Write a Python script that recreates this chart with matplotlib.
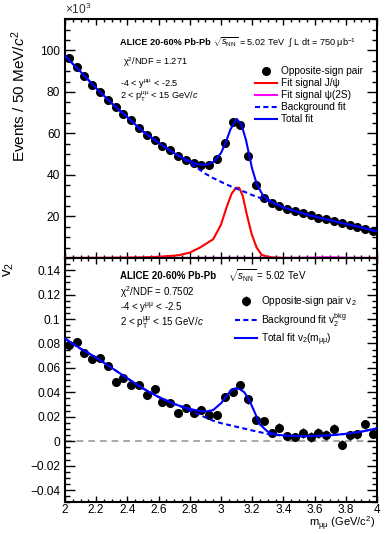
import numpy as np
import matplotlib
matplotlib.use("Agg")
import matplotlib.pyplot as plt
from matplotlib.ticker import MultipleLocator, FixedLocator, FuncFormatter

plt.rcParams['font.family'] = ['Liberation Sans', 'DejaVu Sans']
plt.rcParams['mathtext.fontset'] = 'custom'
plt.rcParams['mathtext.rm'] = 'Liberation Sans'
plt.rcParams['mathtext.it'] = 'Liberation Sans:italic'
plt.rcParams['mathtext.bf'] = 'Liberation Sans:bold'

# dimuon invariant mass bin centres (GeV/c^2)
mass = np.arange(40) * 0.05 + 2.025

# opposite-sign pair yield (x10^3 per 50 MeV/c^2)
counts = [96.3, 91.8, 87.6, 83.4, 80.1, 76.3, 72.7, 69.3, 66.3, 62.7,
          59.3, 57.0, 54.0, 51.9, 49.1, 47.4, 45.9, 44.6, 44.7, 47.6,
          55.6, 65.6, 64.3, 49.1, 35.2, 28.7, 26.5, 25.2, 23.6, 22.4,
          21.5, 20.5, 19.5, 18.6, 17.8, 16.8, 15.9, 15.0, 14.2, 13.1]

# fit curves
fit_m = [2.0, 2.1, 2.2, 2.3, 2.4, 2.5, 2.6, 2.7, 2.75, 2.8, 2.85, 2.9, 2.95,
         3.0, 3.03, 3.06, 3.1, 3.13, 3.16, 3.2, 3.23, 3.27, 3.33, 3.4, 3.5,
         3.6, 3.7, 3.8, 3.9, 4.0]
total_fit = [97.4, 89.7, 81.8, 74.5, 67.8, 61.0, 55.5, 50.5, 48.4, 46.6, 45.2, 44.8, 46.2,
             50.5, 55.5, 61.8, 67.0, 64.5, 57.0, 43.0, 35.5, 30.0, 26.8, 24.4, 22.0,
             20.0, 18.2, 16.4, 14.7, 12.8]
bkg_fit = [97.4, 89.7, 81.8, 74.5, 67.8, 61.0, 55.5, 50.5, 48.2, 45.8, 43.3, 40.6, 38.5,
           36.7, 35.6, 34.6, 33.4, 32.5, 31.6, 30.3, 29.5, 28.4, 26.6, 24.4, 22.0,
           20.0, 18.2, 16.4, 14.7, 12.8]

jpsi_m = [2.0, 2.3, 2.5, 2.6, 2.7, 2.74, 2.8, 2.865, 2.95, 3.0, 3.036, 3.068, 3.096,
          3.117, 3.139, 3.165, 3.197, 3.229, 3.261, 3.31, 3.4, 4.0]
jpsi_fit = [0.0, 0.1, 0.3, 0.6, 1.1, 1.5, 2.6, 5.0, 9.0, 16.0, 24.4, 30.9, 33.8,
            33.8, 30.1, 21.2, 11.5, 5.0, 1.5, 0.4, 0.0, 0.0]

psi2s_m = [2.0, 3.5, 3.6, 3.68, 3.76, 3.85, 4.0]
psi2s_fit = [0.0, 0.05, 0.2, 0.35, 0.2, 0.05, 0.0]

# v2 of opposite-sign pairs
v2 = [0.0784, 0.0815, 0.0724, 0.0670, 0.0683, 0.0612, 0.0484, 0.0520, 0.0462, 0.0462,
      0.0375, 0.0424, 0.0320, 0.0309, 0.0227, 0.0274, 0.0227, 0.0254, 0.0213, 0.0213,
      0.0361, 0.0402, 0.0457, 0.0342, 0.0172, 0.0164, 0.0069, 0.0110, 0.0041, 0.0033,
      0.0069, 0.0036, 0.0069, 0.0049, 0.0102, -0.0027, 0.0047, 0.0055, 0.0137, 0.0063]
v2_err = [0.003] * 20 + [0.0035] * 10 + [0.004] * 10

v2_m = [2.0, 2.1, 2.2, 2.3, 2.4, 2.5, 2.6, 2.7, 2.75, 2.8, 2.85, 2.9, 2.95, 3.0,
        3.03, 3.06, 3.09, 3.12, 3.15, 3.18, 3.21, 3.25, 3.3, 3.35, 3.4, 3.5,
        3.6, 3.7, 3.8, 3.9, 4.0]
v2_total = [0.0840, 0.0757, 0.0685, 0.0600, 0.0515, 0.0432, 0.0362, 0.0305, 0.0284, 0.0265,
            0.0250, 0.0242, 0.0255, 0.0310, 0.0360, 0.0410, 0.0432, 0.0428, 0.0400, 0.0340,
            0.0255, 0.0137, 0.0078, 0.0055, 0.0047, 0.0041, 0.0043, 0.0048, 0.0060, 0.0078,
            0.0105]
v2_bkg = [0.0840, 0.0757, 0.0685, 0.0600, 0.0515, 0.0432, 0.0362, 0.0305, 0.0280, 0.0252,
          0.0224, 0.0195, 0.0168, 0.0148, 0.0139, 0.0130, 0.0121, 0.0112, 0.0103, 0.0094,
          0.0085, 0.0074, 0.0060, 0.0052, 0.0046, 0.0041, 0.0043, 0.0048, 0.0060, 0.0078,
          0.0105]

fig = plt.figure(figsize=(3.85, 5.34), dpi=100)
ax1 = fig.add_axes([0.1688, 0.5169, 0.8102, 0.4470])
ax2 = fig.add_axes([0.1688, 0.0594, 0.8102, 0.4575])

dash = (0, (2.4, 1.6))
for ax in (ax1, ax2):
    ax.tick_params(which='both', direction='in', top=True, right=True, labelsize=8.6)
    ax.tick_params(which='major', length=7, width=1.0)
    ax.tick_params(which='minor', length=3.5, width=1.0)
    ax.tick_params(axis='x', which='major', length=4.5, pad=1.5)
    ax.tick_params(axis='x', which='minor', length=2.5)
    for s in ax.spines.values():
        s.set_linewidth(1.5)
    ax.set_xlim(2, 4)
    ax.xaxis.set_major_locator(MultipleLocator(0.2))
    ax.xaxis.set_minor_locator(MultipleLocator(0.05))

mumu = r'\mathrm{\u03bc\u03bc}'.encode().decode('unicode_escape')

# ---- top panel: invariant mass fit
ax1.plot(jpsi_m, jpsi_fit, color='red', lw=1.5, label='Fit signal J/\u03c8', zorder=3)
ax1.plot(psi2s_m, psi2s_fit, color='#ff00ff', lw=1.5, label='Fit signal \u03c8(2S)', zorder=3)
ax1.plot(fit_m, bkg_fit, color='blue', lw=1.5, ls=dash, label='Background fit', zorder=4)
ax1.plot(fit_m, total_fit, color='blue', lw=1.5, label='Total fit', zorder=5)
ax1.plot(mass, counts, 'o', color='black', ms=5.5, label='Opposite-sign pair', zorder=3)
ax1.set_ylim(0, 115)
ax1.yaxis.set_major_locator(FixedLocator([20, 40, 60, 80, 100]))
ax1.yaxis.set_minor_locator(MultipleLocator(5))
ax1.tick_params(axis='x', labelbottom=False)
ax1.set_ylabel('Events / 50 MeV/$c^{2}$', fontsize=11, loc='top')
ax1.yaxis.set_label_coords(-0.119, 0.955)
ax1.text(0.0, 1.01, r'$\times10^{3}$', transform=ax1.transAxes, fontsize=8.6,
         ha='left', va='bottom', color='#333333')

handles, labels = ax1.get_legend_handles_labels()
order = [4, 0, 1, 2, 3]
ax1.legend([handles[i] for i in order], [labels[i] for i in order],
           loc='upper left', bbox_to_anchor=(0.609, 0.804), frameon=False,
           fontsize=7.3, borderpad=0, borderaxespad=0, handlelength=2.2,
           handletextpad=0.4, labelspacing=0.2)

ax1.text(0.176, 0.902, 'ALICE 20-60% Pb-Pb', transform=ax1.transAxes, fontsize=6.6,
         fontweight='bold', va='center')
ax1.text(0.474, 0.902, r'$\sqrt{s_{\rm NN}}$ = 5.02 TeV', transform=ax1.transAxes,
         fontsize=6.6, va='center')
ax1.text(0.715, 0.902, '$\\int$ L dt = 750 \u03bcb$^{-1}$', transform=ax1.transAxes,
         fontsize=6.6, va='center')
ax1.text(0.186, 0.821, '\u03c7$^{2}$/NDF = 1.271', transform=ax1.transAxes, fontsize=6.6,
         va='center')
ax1.text(0.176, 0.733, '-4 < $\\mathrm{y}^{' + mumu + '}$ < -2.5', transform=ax1.transAxes,
         fontsize=6.6, va='center')
ax1.text(0.176, 0.674, '2 < $\\mathrm{p}_{\\rm T}^{' + mumu + '}$ < 15 GeV/$c$',
         transform=ax1.transAxes, fontsize=6.6, va='center')

# ---- bottom panel: v2 vs mass
ax2.axhline(0, color='#999999', lw=1.2, ls=(0, (4, 3)), zorder=1)
ax2.errorbar(mass, v2, yerr=v2_err, fmt='o', color='black', ms=5.5, elinewidth=1.0,
             capsize=0, label='Opposite-sign pair v$_{2}$', zorder=3)
ax2.plot(v2_m, v2_bkg, color='blue', lw=1.5, ls=dash,
         label=r'Background fit v$_{2}^{\rm bkg}$', zorder=4)
ax2.plot(v2_m, v2_total, color='blue', lw=1.5,
         label='Total fit v$_{2}$(m$_{' + mumu + '}$)', zorder=5)
ax2.set_ylim(-0.05, 0.15)
ax2.yaxis.set_major_locator(MultipleLocator(0.02))
ax2.yaxis.set_minor_locator(MultipleLocator(0.005))
ax2.yaxis.set_major_formatter(FuncFormatter(
    lambda v, p: ('%g' % round(v, 3)).replace('-', '\u2212')))
ax2.xaxis.set_major_formatter(FuncFormatter(lambda v, p: '%g' % round(v, 2)))
ax2.set_ylabel('v$_{2}$', fontsize=11, loc='top')
ax2.yaxis.set_label_coords(-0.157, 0.984)
ax2.set_xlabel('m$_{' + mumu + '}$ (GeV/c$^{2}$)', fontsize=8.0, loc='right')
ax2.xaxis.set_label_coords(0.994, -0.052)

h2, l2 = ax2.get_legend_handles_labels()
order2 = [2, 0, 1]
ax2.legend([h2[i] for i in order2], [l2[i] for i in order2],
           loc='upper left', bbox_to_anchor=(0.545, 0.851), frameon=False,
           fontsize=7.3, borderpad=0, borderaxespad=0, handlelength=2.2,
           handletextpad=0.4, labelspacing=0.25)

ax2.text(0.176, 0.928, 'ALICE 20-60% Pb-Pb', transform=ax2.transAxes, fontsize=7.0,
         fontweight='bold', va='center')
ax2.text(0.522, 0.928, r'$\sqrt{s_{\rm NN}}$ = 5.02 TeV', transform=ax2.transAxes,
         fontsize=7.0, va='center')
ax2.text(0.176, 0.861, '\u03c7$^{2}$/NDF = 0.7502', transform=ax2.transAxes, fontsize=7.0,
         va='center')
ax2.text(0.176, 0.795, '-4 < $\\mathrm{y}^{' + mumu + '}$ < -2.5', transform=ax2.transAxes,
         fontsize=7.0, va='center')
ax2.text(0.176, 0.734, '2 < $\\mathrm{p}_{\\rm T}^{' + mumu + '}$ < 15 GeV/$c$',
         transform=ax2.transAxes, fontsize=7.0, va='center')

fig.savefig('out.png', dpi=100)
